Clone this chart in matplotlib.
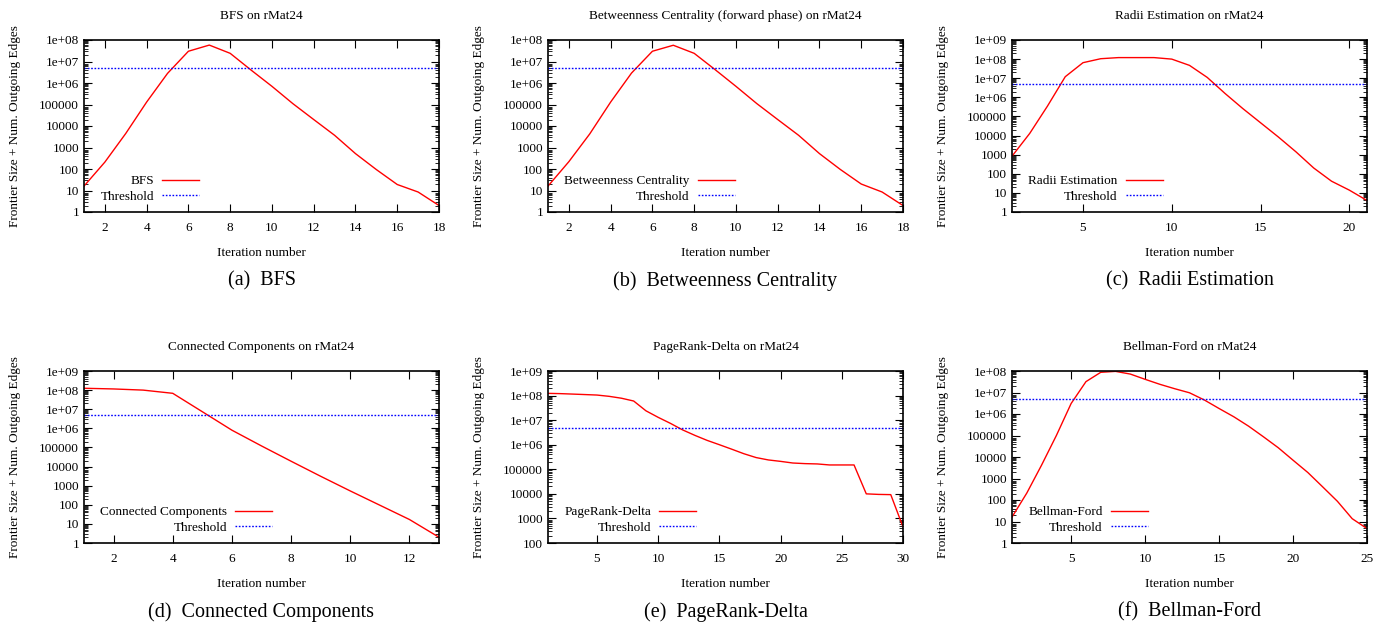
import numpy as np
import matplotlib
matplotlib.use("Agg")
import matplotlib.pyplot as plt
from matplotlib.ticker import FixedLocator, FuncFormatter, LogLocator, NullFormatter

plt.rcParams['font.family'] = ['Liberation Serif', 'DejaVu Serif']

THRESHOLD = 5e6

# BFS
bfs_x = list(range(1, 19))
bfs_y = [16, 210, 4500, 1.3e5, 2.8e6, 3e7, 5.8e7, 2.4e7, 4e6, 7e5, 1.1e5, 2e4,
         3700, 520, 94, 19, 8.5, 2]

# Betweenness Centrality (forward phase)
bc_x = list(range(1, 19))
bc_y = [16, 220, 4300, 1.3e5, 2.9e6, 3e7, 5.7e7, 2.4e7, 4.2e6, 7e5, 1.1e5, 2e4,
        3700, 520, 95, 20, 8.5, 2]

# Radii Estimation
radii_x = list(range(1, 22))
radii_y = [830, 1.3e4, 3.5e5, 1.2e7, 6.5e7, 1.05e8, 1.2e8, 1.2e8, 1.2e8, 1.0e8,
           4.7e7, 1.1e7, 1.6e6, 2.6e5, 4.7e4, 8500, 1400, 200, 41, 14, 4]

# Connected Components
cc_x = list(range(1, 14))
cc_y = [1.25e8, 1.15e8, 1.0e8, 6.8e7, 7.4e6, 8e5, 1.2e5, 1.9e4, 3100, 530, 95, 17, 2]

# PageRank-Delta
pr_x = list(range(1, 31))
pr_y = [1.23e8, 1.2e8, 1.15e8, 1.1e8, 1.05e8, 9.3e7, 7.8e7, 6e7, 2.4e7, 1.3e7,
        7.4e6, 4e6, 2.4e6, 1.5e6, 1e6, 6.6e5, 4.3e5, 3e5, 2.4e5, 2.1e5,
        1.8e5, 1.7e5, 1.65e5, 1.5e5, 1.5e5, 1.5e5, 1e4, 9.5e3, 9.3e3, 450]

# Bellman-Ford
bf_x = list(range(1, 26))
bf_y = [16, 210, 4200, 1e5, 3.1e6, 3.2e7, 8.7e7, 9.6e7, 7.2e7, 4.1e7, 2.4e7,
        1.5e7, 9.7e6, 4.5e6, 1.8e6, 7.4e5, 2.7e5, 8.7e4, 2.7e4, 7100, 1900,
        410, 87, 13.5, 4.7]

panels = [
    ("BFS on rMat24", "BFS", "(a)  BFS", bfs_x, bfs_y, (1, 18), (1, 1e8), [2, 4, 6, 8, 10, 12, 14, 16, 18]),
    ("Betweenness Centrality (forward phase) on rMat24", "Betweenness Centrality", "(b)  Betweenness Centrality",
     bc_x, bc_y, (1, 18), (1, 1e8), [2, 4, 6, 8, 10, 12, 14, 16, 18]),
    ("Radii Estimation on rMat24", "Radii Estimation", "(c)  Radii Estimation",
     radii_x, radii_y, (1, 21), (1, 1e9), [5, 10, 15, 20]),
    ("Connected Components on rMat24", "Connected Components", "(d)  Connected Components",
     cc_x, cc_y, (1, 13), (1, 1e9), [2, 4, 6, 8, 10, 12]),
    ("PageRank-Delta on rMat24", "PageRank-Delta", "(e)  PageRank-Delta",
     pr_x, pr_y, (1, 30), (100, 1e9), [5, 10, 15, 20, 25, 30]),
    ("Bellman-Ford on rMat24", "Bellman-Ford", "(f)  Bellman-Ford",
     bf_x, bf_y, (1, 25), (1, 1e8), [5, 10, 15, 20, 25]),
]

W, H = 1387, 623
fig = plt.figure(figsize=(W / 100, H / 100), dpi=100)

lefts = [84, 548, 1012]
tops = [40, 371]
aw, ah = 355, 172


def ylab(v, pos):
    if v >= 1e6:
        return f"{v:.0e}"
    return f"{int(round(v))}"


for i, (title, name, caption, x, y, xl, yl, xt) in enumerate(panels):
    r, c = divmod(i, 3)
    ax = fig.add_axes([lefts[c] / W, 1 - (tops[r] + ah) / H, aw / W, ah / H])
    ax.plot(x, y, color='red', lw=1.0, label=name)
    ax.axhline(THRESHOLD, color='blue', lw=1.0, ls=(0, (1.2, 1.2)), label='Threshold')
    ax.set_yscale('log')
    ax.set_xlim(*xl)
    ax.set_ylim(*yl)
    ax.xaxis.set_major_locator(FixedLocator(xt))
    ax.yaxis.set_major_locator(LogLocator(base=10, numticks=20))
    ax.yaxis.set_minor_locator(LogLocator(base=10, subs=np.arange(2, 10), numticks=20))
    ax.yaxis.set_major_formatter(FuncFormatter(ylab))
    ax.yaxis.set_minor_formatter(NullFormatter())
    ax.tick_params(which='both', direction='in', top=True, right=True, labelsize=9.5)
    ax.tick_params(which='major', length=6, width=0.8)
    ax.tick_params(which='minor', length=3, width=0.6)
    ax.tick_params(axis='x', pad=7)
    for s in ax.spines.values():
        s.set_linewidth(1.2)

    ax.text(0.5, 1 + 24 / ah, title, transform=ax.transAxes, ha='center', va='center', fontsize=9.5)
    ax.text(0.5, -41 / ah, "Iteration number", transform=ax.transAxes, ha='center', va='center', fontsize=9.5)
    ax.text(-69 / aw, 0.5, "Frontier Size + Num. Outgoing Edges", transform=ax.transAxes,
            ha='center', va='center', rotation=90, fontsize=9.5)
    ax.text(0.5, -69 / ah, caption, transform=ax.transAxes, ha='center', va='center', fontsize=14.5)

    ax.legend(loc='lower left', bbox_to_anchor=(0.02, 0.0), frameon=False, markerfirst=False,
              fontsize=9.5, handlelength=2.8, handletextpad=0.6, labelspacing=0.25,
              borderaxespad=0.3)

fig.savefig("out.png", dpi=100)
